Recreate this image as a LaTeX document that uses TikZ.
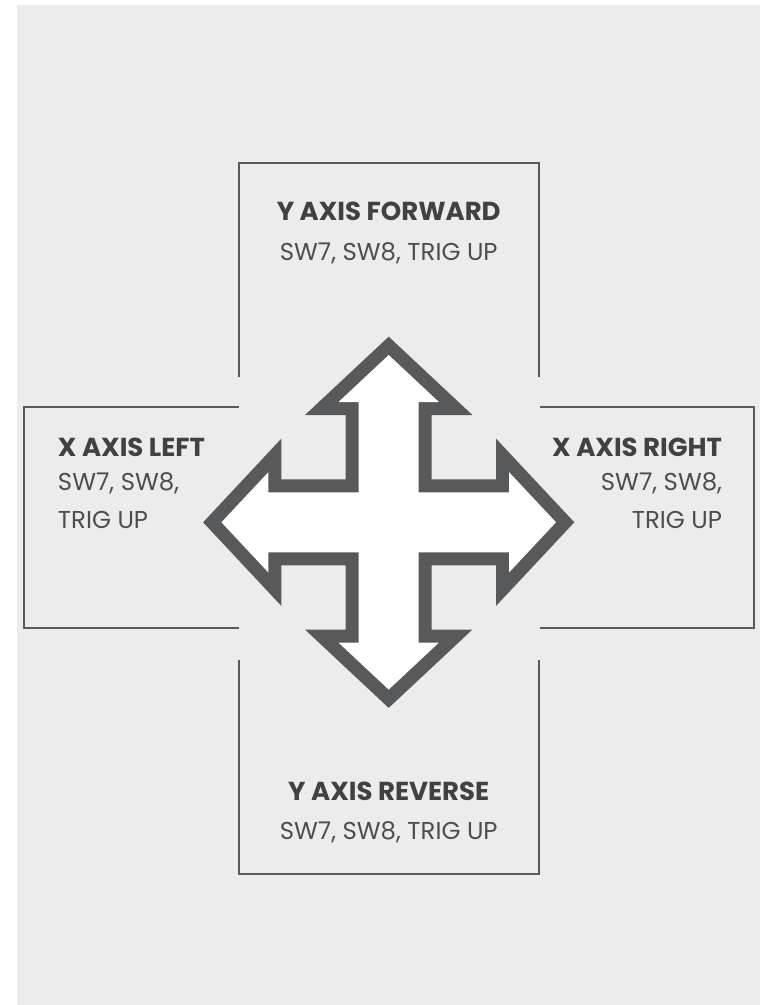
\documentclass[tikz,border=0pt]{standalone}
\usepackage{fontspec}
\setmainfont{Poppins}
\definecolor{bggray}{HTML}{ECECEC}
\definecolor{darkgray}{HTML}{58595B}
\definecolor{textgray}{HTML}{414042}
\definecolor{subgray}{HTML}{4D4D4F}
% tip, head base, head half width, shaft half width
\newcommand{\crossarrow}[4]{(0,#1) -- (#3,#2) -- (#4,#2) -- (#4,#4) -- (#2,#4) -- (#2,#3) -- (#1,0)
  -- (#2,-#3) -- (#2,-#4) -- (#4,-#4) -- (#4,-#2) -- (#3,-#2) -- (0,-#1)
  -- (-#3,-#2) -- (-#4,-#2) -- (-#4,-#4) -- (-#2,-#4) -- (-#2,-#3) -- (-#1,0)
  -- (-#2,#3) -- (-#2,#4) -- (-#4,#4) -- (-#4,#2) -- (-#3,#2) -- cycle}
\tikzset{
  boxline/.style={draw=darkgray, line width=0.9pt},
  titletext/.style={inner sep=0pt, text=textgray, font=\bfseries\fontsize{19.5}{23}\selectfont},
  subtext/.style={inner sep=0pt, text=subgray, font=\fontsize{18.3}{22}\selectfont}
}
\begin{document}
\begin{tikzpicture}[x=0.75pt, y=-0.75pt]
    \useasboundingbox (0,0) rectangle (760,1005);
    \fill[bggray] (17,5) rectangle (760,1005);

    % open boxes round the cross
    \draw[boxline] (239,377) -- (239,163) -- (539,163) -- (539,377);
    \draw[boxline] (239,407) -- (24,407) -- (24,628) -- (239,628);
    \draw[boxline] (540,407) -- (754,407) -- (754,628) -- (540,628);
    \draw[boxline] (239,660) -- (239,874) -- (539,874) -- (539,660);

    % four way arrow
    \begin{scope}[shift={(388.7,522.3)}]
        \fill[darkgray] \crossarrow{185.6}{107.3}{83.7}{43};
        \fill[white] \crossarrow{167.3}{120.3}{50.2}{30};
    \end{scope}

    \node[titletext, anchor=base] (ttlfwd) at (388.7,221) {Y AXIS FORWARD};
    \node[subtext, anchor=base] (subfwd) at (388.7,261) {SW7, SW8, TRIG UP};

    \node[titletext, anchor=base] (ttlrev) at (388.7,800) {Y AXIS REVERSE};
    \node[subtext, anchor=base] (subrev) at (388.7,839.3) {SW7, SW8, TRIG UP};

    \node[titletext, anchor=base west] (ttlleft) at (57.7,456.7) {X AXIS LEFT};
    \node[subtext, anchor=base west] (subleft) at (57.7,490.7) {SW7, SW8,};
    \node[subtext, anchor=base west] (subleftb) at (57.7,528.3) {TRIG UP};

    \node[titletext, anchor=base east] (ttlright) at (722.3,456.7) {X AXIS RIGHT};
    \node[subtext, anchor=base east] (subright) at (722.3,490.7) {SW7, SW8,};
    \node[subtext, anchor=base east] (subrightb) at (722.3,528.3) {TRIG UP};
\end{tikzpicture}
\end{document}
